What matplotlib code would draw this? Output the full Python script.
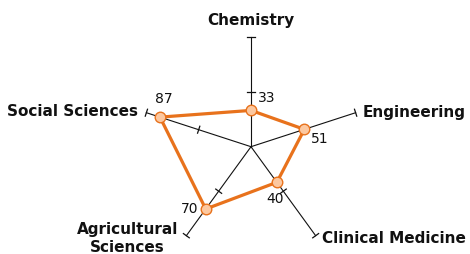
import numpy as np
import matplotlib
matplotlib.use("Agg")
import matplotlib.pyplot as plt

categories = ["Chemistry", "Engineering", "Clinical Medicine", "Agricultural\nSciences", "Social Sciences"]
values = [33, 51, 40, 70, 87]
scale_max = 100
tick_values = [50, 100]

# styling
label_offsets = [(0, 16), (7, 0), (6, -3), (-8, -3), (-8, 1)]
label_ha = ["center", "left", "left", "right", "right"]
value_offsets = [(16, 12), (15, -10), (-2, -17), (-16, 0), (4, 18)]
orange = "#E8721C"
peach = "#FCC8A0"

W, H, dpi = 470, 254, 100
fig = plt.figure(figsize=(W / dpi, H / dpi), dpi=dpi)
ax = fig.add_axes([0, 0, 1, 1])
ax.set_axis_off()

px = 1.1  # pixels per data unit
cx, cy = 251, 254 - 146.7
ax.set_xlim(-cx / px, (W - cx) / px)
ax.set_ylim(-cy / px, (H - cy) / px)
ax.set_aspect("equal")

n = len(categories)
angles = np.deg2rad(90 - 360 / n * np.arange(n))
dirs = np.column_stack([np.cos(angles), np.sin(angles)])
perps = np.column_stack([-np.sin(angles), np.cos(angles)])

# spokes and ticks
half = 3.3
for d, p in zip(dirs, perps):
    ax.plot([0, d[0] * scale_max], [0, d[1] * scale_max], color="#111111", lw=0.8, zorder=1)
    for t in tick_values:
        c = d * t
        ax.plot([c[0] - p[0] * half, c[0] + p[0] * half],
                [c[1] - p[1] * half, c[1] + p[1] * half],
                color="#111111", lw=0.9, zorder=1)

# data polygon
pts = dirs * np.array(values)[:, None]
closed = np.vstack([pts, pts[:1]])
ax.plot(closed[:, 0], closed[:, 1], color=orange, lw=2.3, zorder=2, solid_joinstyle="miter")
ax.plot(pts[:, 0], pts[:, 1], ls="none", marker="o", ms=7.6, mfc=peach, mec=orange, mew=1.0, zorder=3)

# value labels
for (x, y), v, off in zip(pts, values, value_offsets):
    ax.annotate(str(v), xy=(x, y), xytext=off, textcoords="offset pixels",
                ha="center", va="center", fontsize=10, color="#111111",
                family="DejaVu Sans")

# category labels
for d, cat, off, ha in zip(dirs, categories, label_offsets, label_ha):
    e = d * scale_max
    ax.annotate(cat, xy=(e[0], e[1]), xytext=off, textcoords="offset pixels",
                ha=ha, va="center", multialignment="center",
                fontsize=11, fontweight="bold", color="#111111",
                family="DejaVu Sans")

fig.savefig("out.png", dpi=dpi)
